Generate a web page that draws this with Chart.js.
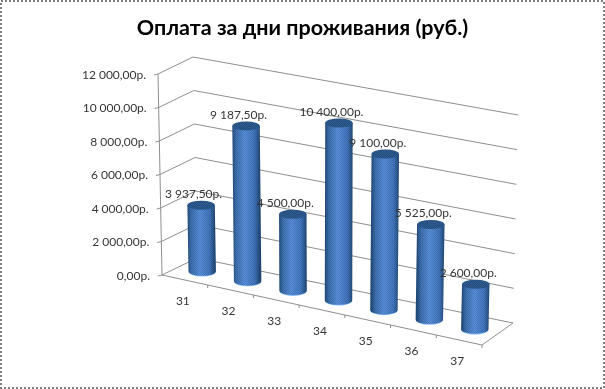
<!DOCTYPE html>
<html>
<head>
<meta charset="utf-8">
<title>Оплата за дни проживания</title>
<script src="https://cdn.jsdelivr.net/npm/chart.js@4"></script>
<style>
  html, body { margin: 0; padding: 0; background: #fff; }
  canvas { display: block; }
</style>
</head>
<body>
<canvas id="myChart" width="605" height="389"></canvas>
<script>
const days = ['31', '32', '33', '34', '35', '36', '37'];
const payment = [3937.5, 9187.5, 4500, 10400, 9100, 5525, 2600];
const chartTitle = 'Оплата за дни проживания (руб.)';
const maxValue = 12000;
const stepValue = 2000;

// corners of the floor on screen, the scales only give us 0..1 along each edge
const floorFL = [162, 275], floorFR = [482, 345], floorBR = [513, 323], floorBL = [197, 258];
const FONT = 'Lato, "Open Sans", sans-serif';
const LINE = '#8e8e8e';
const TEXT = '#363636';

function money(value) {
  const parts = value.toFixed(2).split('.');
  return parts[0].replace(/\B(?=(\d{3})+$)/g, '\u2005') + ',' + parts[1] + 'р.';
}

// u along the categories, v into the depth, h up the value axis
function project(u, v, h) {
  const fx = floorFL[0] + (floorFR[0] - floorFL[0]) * u;
  const fy = floorFL[1] + (floorFR[1] - floorFL[1]) * u;
  const bx = floorBL[0] + (floorBR[0] - floorBL[0]) * u;
  const by = floorBL[1] + (floorBR[1] - floorBL[1]) * u;
  return [
    fx + (bx - fx) * v + (-4 + 9 * u) * h,
    fy + (by - fy) * v - (201 + 7 * u) * h
  ];
}

function segment(ctx, a, b) {
  ctx.beginPath();
  ctx.moveTo(a[0], a[1]);
  ctx.lineTo(b[0], b[1]);
  ctx.stroke();
}

function ditherPattern(ctx) {
  const c = document.createElement('canvas');
  c.width = 2; c.height = 2;
  const p = c.getContext('2d');
  p.fillStyle = 'rgba(20,40,80,0.2)';
  p.fillRect(0, 0, 1, 1);
  p.fillRect(1, 1, 1, 1);
  return ctx.createPattern(c, 'repeat');
}

function drawCylinder(ctx, bottom, top, rx, ry, dither) {
  const g = ctx.createLinearGradient(top[0] - rx, 0, top[0] + rx, 0);
  g.addColorStop(0, '#234d7c');
  g.addColorStop(0.14, '#3f72b0');
  g.addColorStop(0.45, '#5a92e0');
  g.addColorStop(0.8, '#4479c0');
  g.addColorStop(1, '#224a78');

  const body = new Path2D();
  body.moveTo(top[0] - rx, top[1]);
  body.lineTo(bottom[0] - rx, bottom[1]);
  body.ellipse(bottom[0], bottom[1], rx, ry, 0, Math.PI, 0, true);
  body.lineTo(top[0] + rx, top[1]);
  body.closePath();

  // light rim under the foot of the bar
  ctx.fillStyle = '#7cb6f2';
  ctx.beginPath();
  ctx.ellipse(bottom[0], bottom[1] + 0.8, rx - 0.5, ry, 0, 0, Math.PI * 2);
  ctx.fill();

  ctx.fillStyle = g;
  ctx.fill(body);
  ctx.fillStyle = dither;
  ctx.fill(body);

  ctx.fillStyle = '#2c5a8e';
  ctx.beginPath();
  ctx.ellipse(top[0], top[1], rx, ry, 0, 0, Math.PI * 2);
  ctx.fill();
  ctx.fillStyle = dither;
  ctx.fill();
}

const walls3d = {
  id: 'walls3d',
  beforeDatasetsDraw(chart) {
    const ctx = chart.ctx;
    const yScale = chart.scales.y;
    const area = chart.chartArea;
    ctx.save();

    // dotted frame of the picture
    ctx.strokeStyle = '#808080';
    ctx.lineWidth = 2;
    ctx.setLineDash([2, 2]);
    ctx.strokeRect(1, 1, chart.width - 2, chart.height - 2);
    ctx.setLineDash([]);

    ctx.lineWidth = 1;
    ctx.strokeStyle = LINE;
    ctx.fillStyle = TEXT;
    ctx.font = '12px ' + FONT;
    ctx.textAlign = 'right';
    ctx.textBaseline = 'middle';
    yScale.ticks.forEach(tick => {
      const h = (area.bottom - yScale.getPixelForValue(tick.value)) / area.height;
      const front = project(0, 0, h);
      const corner = project(0, 1, h);
      segment(ctx, [front[0] - 4, front[1] + 1], front);
      segment(ctx, front, corner);
      segment(ctx, corner, project(1, 1, h));
      ctx.fillText(money(tick.value), front[0] - 12, front[1] + 1);
    });

    // value axis, floor edges
    segment(ctx, project(0, 0, 0), project(0, 0, 1));
    segment(ctx, project(0, 0, 0), project(1, 0, 0));
    segment(ctx, project(1, 0, 0), project(1, 1, 0));

    // ticks between categories and the day labels below the front edge
    ctx.textAlign = 'center';
    days.forEach((day, i) => {
      const edge = project((i + 1) / days.length, 0, 0);
      segment(ctx, edge, [edge[0], edge[1] + 3]);
      const mid = project((i + 0.5) / days.length, 0, 0);
      ctx.fillText(day, mid[0] - 2, mid[1] + 21);
    });
    ctx.restore();
  }
};

const cylinders3d = {
  id: 'cylinders3d',
  afterDatasetsDraw(chart) {
    const ctx = chart.ctx;
    const area = chart.chartArea;
    const dither = ditherPattern(ctx);
    const bars = chart.getDatasetMeta(0).data;
    const frontWidth = floorFR[0] - floorFL[0];
    ctx.save();

    bars.forEach(bar => {
      const u = (bar.x - area.left) / area.width;
      const h = (bar.base - bar.y) / area.height;
      const rx = bar.width / area.width * frontWidth / 2;
      drawCylinder(ctx, project(u, 0.5, 0), project(u, 0.5, h), rx, 4.5, dither);
    });

    ctx.fillStyle = TEXT;
    ctx.font = '12px ' + FONT;
    ctx.textAlign = 'center';
    ctx.textBaseline = 'middle';
    bars.forEach((bar, i) => {
      const u = (bar.x - area.left) / area.width;
      const h = (bar.base - bar.y) / area.height;
      const top = project(u, 0.5, h);
      ctx.fillText(money(payment[i]), top[0] - 7.5, top[1] - 11);
    });
    ctx.restore();
  }
};

new Chart(document.getElementById('myChart'), {
  type: 'bar',
  data: {
    labels: days,
    datasets: [{
      data: payment,
      backgroundColor: 'rgba(0,0,0,0)',
      barPercentage: 0.6,
      categoryPercentage: 1
    }]
  },
  options: {
    responsive: false,
    animation: false,
    layout: { padding: 0 },
    plugins: {
      legend: { display: false },
      tooltip: { enabled: false },
      title: {
        display: true,
        text: chartTitle,
        color: '#000',
        font: { family: FONT, size: 21.5, weight: 'bold' },
        padding: { top: 15, bottom: 20 }
      }
    },
    scales: {
      x: { display: false },
      y: {
        display: false,
        min: 0,
        max: maxValue,
        ticks: { stepSize: stepValue }
      }
    }
  },
  plugins: [walls3d, cylinders3d]
});
</script>
</body>
</html>
